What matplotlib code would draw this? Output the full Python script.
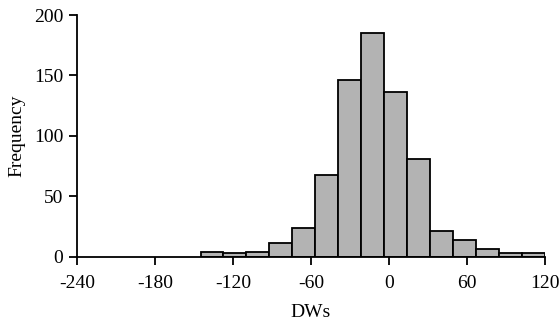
import matplotlib

matplotlib.use("Agg")

import matplotlib.pyplot as plt
import numpy as np

# Гистограмма DWs: границы интервалов и частоты
bin_start = -145.0
bin_end = 120.0
counts = [4, 3, 4, 11, 24, 68, 146, 185, 136, 81, 21, 14, 6, 3, 3]
x_ticks = [-240, -180, -120, -60, 0, 60, 120]
y_ticks = [0, 50, 100, 150, 200]

edges = np.linspace(bin_start, bin_end, len(counts) + 1)
widths = np.diff(edges)

plt.rcParams['font.family'] = ['Liberation Serif', 'DejaVu Serif']
plt.rcParams['font.size'] = 14

fig = plt.figure(figsize=(5.59, 3.28), dpi=100)
ax = fig.add_axes([77 / 559, 1 - 256.7 / 328, 468 / 559, 241.7 / 328])

ax.bar(edges[:-1], counts, width=widths, align='edge',
       color='#b3b3b3', edgecolor='black', linewidth=1.3)

ax.set_xlim(-240, 120)
ax.set_ylim(0, 200)
ax.set_xticks(x_ticks)
ax.set_yticks(y_ticks)
ax.set_xticklabels([str(t) for t in x_ticks])

for side in ('top', 'right'):
    ax.spines[side].set_visible(False)
for side in ('left', 'bottom'):
    ax.spines[side].set_linewidth(1.3)
ax.tick_params(axis='x', direction='out', length=6, width=1.3, pad=7)
ax.tick_params(axis='y', direction='out', length=6, width=1.3, pad=4)

ax.set_xlabel('DWs', labelpad=9)
ax.set_ylabel('Frequency', labelpad=6)

fig.savefig("out.png", dpi=100)
plt.close(fig)
